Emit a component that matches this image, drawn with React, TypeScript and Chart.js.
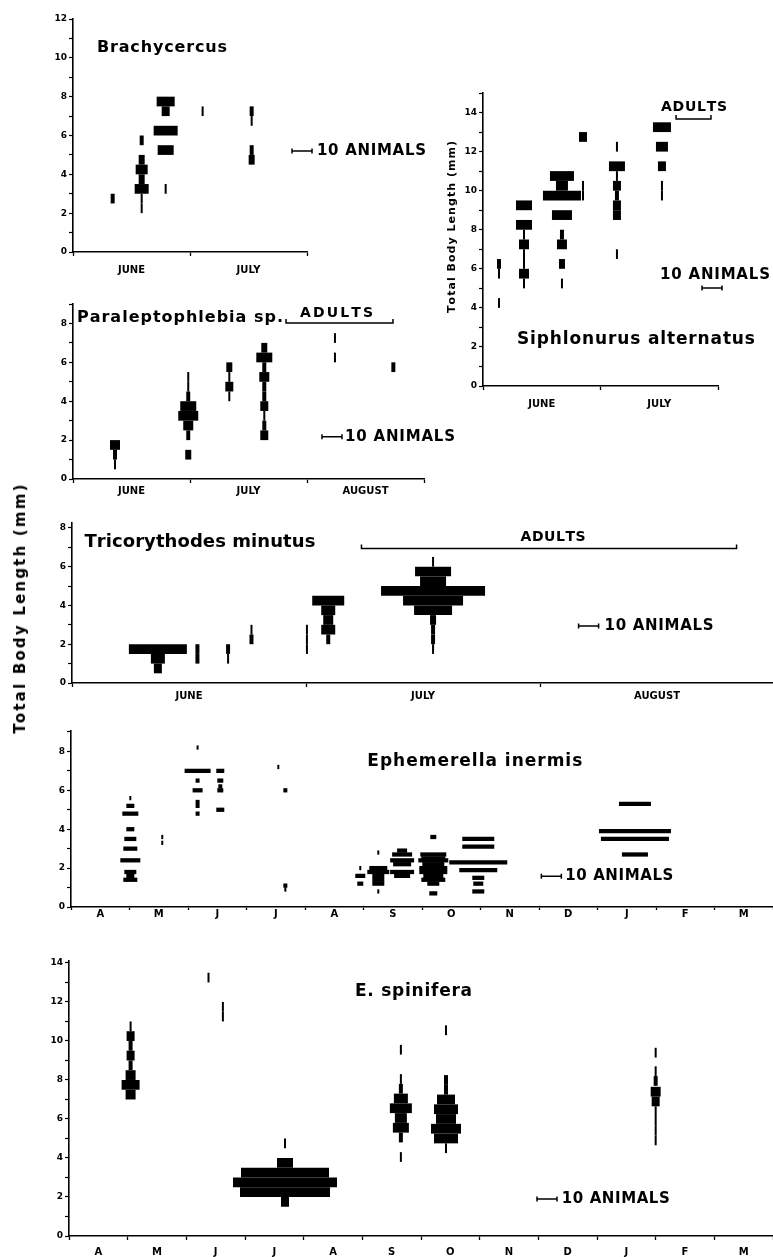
import React, { useEffect, useRef } from 'react';
import { Chart, registerables } from 'chart.js';

Chart.register(...registerables);

const FONT = "'DejaVu Sans', 'Liberation Sans', sans-serif";

// ---------- axis labels ----------
const MONTHS_JUNE_JULY = ['JUNE', 'JULY'];
const MONTHS_JUNE_AUG = ['JUNE', 'JULY', 'AUGUST'];
const MONTHS_APR_MAR = ['A', 'M', 'J', 'J', 'A', 'S', 'O', 'N', 'D', 'J', 'F', 'M'];

// width key: 10 animals
const ANIMALS_IN_KEY = 10;

// ---------- Brachycercus (x in months from 1 June) ----------
const BRACHY_DATES = [0.339, 0.587, 0.792, 1.108, 1.527];
const BRACHY_LENGTHS = [
  [2.75],
  [5.75, 4.75, 4.25, 3.75, 3.25, 2.75, 2.25],
  [7.75, 7.25, 6.25, 5.25, 3.25],
  [7.25],
  [7.25, 6.75, 5.25, 4.75],
];
const BRACHY_COUNTS = [
  [2],
  [2, 3, 6, 3, 7, 1, 1],
  [9, 4, 12, 8, 1],
  [1],
  [2, 1, 2, 3],
];

// ---------- Siphlonurus alternatus ----------
const SIPH_DATES = [0.136, 0.349, 0.672, 0.851, 1.14, 1.523];
const SIPH_LENGTHS = [
  [6.25, 5.75, 4.25],
  [9.25, 8.25, 7.75, 7.25, 6.75, 6.25, 5.75, 5.25],
  [10.75, 10.25, 9.75, 8.75, 7.75, 7.25, 6.25, 5.25],
  [12.75, 10.25, 9.75],
  [12.25, 11.25, 10.75, 10.25, 9.75, 9.25, 8.75, 6.75],
  [13.25, 12.25, 11.25, 10.25, 9.75],
];
const SIPH_COUNTS = [
  [2, 1, 1],
  [8, 8, 1, 5, 1, 1, 5, 1],
  [12, 6, 19, 10, 2, 5, 3, 1],
  [4, 1, 1],
  [1, 8, 1, 4, 2, 4, 4, 1],
  [9, 6, 4, 1, 1],
];

// ---------- Paraleptophlebia sp. ----------
const PARA_DATES = [0.359, 0.985, 1.336, 1.635, 2.239, 2.738];
const PARA_LENGTHS = [
  [1.75, 1.25, 0.75],
  [5.25, 4.75, 4.25, 3.75, 3.25, 2.75, 2.25, 1.25],
  [5.75, 5.25, 4.75, 4.25],
  [6.75, 6.25, 5.75, 5.25, 4.75, 4.25, 3.75, 3.25, 2.75, 2.25],
  [7.25, 6.25],
  [5.75],
];
const PARA_COUNTS = [
  [5, 2, 1],
  [1, 1, 2, 8, 10, 5, 2, 3],
  [3, 1, 4, 1],
  [3, 8, 2, 5, 2, 2, 4, 1, 2, 4],
  [1, 1],
  [2],
];

// ---------- Tricorythodes minutus ----------
const TRICO_DATES = [0.367, 0.536, 0.667, 0.767, 1.004, 1.095, 1.543];
const TRICO_LENGTHS = [
  [1.75, 1.25, 0.75],
  [1.75, 1.25],
  [1.75, 1.25],
  [2.75, 2.25],
  [2.75, 2.25, 1.75],
  [4.25, 3.75, 3.25, 2.75, 2.25],
  [6.25, 5.75, 5.25, 4.75, 4.25, 3.75, 3.25, 2.75, 2.25, 1.75],
];
const TRICO_COUNTS = [
  [29, 7, 4],
  [2, 2],
  [2, 1],
  [1, 2],
  [1, 1, 1],
  [16, 7, 5, 7, 2],
  [1, 18, 13, 52, 30, 19, 3, 2, 2, 1],
];

// ---------- Ephemerella inermis (x in months from 1 April) ----------
const INER_DATES = [1.014, 1.56, 2.164, 2.552, 3.544, 3.664, 4.945, 5.253, 5.66, 6.193, 6.962, 9.64];
const INER_LENGTHS = [
  [5.6, 5.2, 4.8, 4.0, 3.5, 3.0, 2.4, 1.8, 1.6, 1.4],
  [3.6, 3.3],
  [8.2, 7.0, 6.5, 6.0, 5.4, 5.2, 4.8],
  [7.0, 6.5, 6.2, 6.0, 5.0],
  [7.2],
  [6.0, 1.1, 0.9],
  [2.0, 1.6, 1.2],
  [2.8, 2.0, 1.8, 1.6, 1.4, 1.2, 0.8],
  [2.9, 2.7, 2.4, 2.2, 1.8, 1.6],
  [3.6, 2.7, 2.5, 2.4, 2.2, 2.0, 1.8, 1.6, 1.4, 1.2, 0.7],
  [3.5, 3.1, 2.3, 1.9, 1.5, 1.2, 0.8],
  [5.3, 3.9, 3.5, 2.7],
];
const INER_COUNTS = [
  [1, 4, 8, 4, 6, 7, 10, 6, 4, 7],
  [1, 1],
  [1, 13, 2, 5, 2, 2, 2],
  [4, 3, 2, 3, 4],
  [1],
  [2, 2, 1],
  [1, 5, 3],
  [1, 9, 11, 6, 6, 6, 1],
  [5, 10, 12, 9, 12, 8],
  [3, 13, 12, 15, 11, 14, 14, 10, 12, 6, 4],
  [16, 16, 29, 19, 6, 5, 6],
  [16, 36, 34, 13],
];

// ---------- E. spinifera ----------
const SPIN_DATES = [1.05, 2.378, 2.623, 3.682, 5.657, 6.426, 10.0];
const SPIN_LENGTHS = [
  [10.75, 10.25, 9.75, 9.25, 8.75, 8.25, 7.75, 7.25],
  [13.25],
  [11.75, 11.25],
  [4.75, 3.75, 3.25, 2.75, 2.25, 1.75],
  [9.55, 8.05, 7.55, 7.05, 6.55, 6.05, 5.55, 5.05, 4.05],
  [10.55, 8.0, 7.5, 7.0, 6.5, 6.0, 5.5, 5.0, 4.5],
  [9.4, 8.45, 7.95, 7.4, 6.9, 6.4, 5.9, 5.4, 4.9],
];
const SPIN_COUNTS = [
  [1, 4, 2, 4, 2, 5, 9, 5],
  [1],
  [1, 1],
  [1, 8, 44, 52, 45, 4],
  [1, 1, 2, 7, 11, 6, 8, 2, 1],
  [1, 2, 2, 9, 12, 10, 15, 12, 1],
  [1, 1, 2, 5, 4, 1, 1, 1, 1],
];

// ---------- layout / style ----------
const PX_PER_ANIMAL = 2;
const Y_AXIS_W = 45;
const PAD_TOP = 10;
const X_AXIS_H = 30;

type TextSpec = {
  text: string; x?: number; xPx?: number; y: number; size: number; width: number;
  align?: 'left' | 'center'; rotate?: boolean;
};
type PanelSpec = {
  plot: [number, number, number, number];
  padRight: number;
  months: string[];
  ymax: number;
  dates: number[]; lengths: number[][]; counts: number[][];
  classMM: number;
  monthFont: number; monthPad: number; xTickLen: number;
  texts: TextSpec[];
  bracket?: { x0: number; x1: number; y: number };
  key: { x: number; y: number };
};

const PANELS: PanelSpec[] = [
  {
    plot: [73, 19, 307, 252], padRight: 130, months: MONTHS_JUNE_JULY, ymax: 12,
    dates: BRACHY_DATES, lengths: BRACHY_LENGTHS, counts: BRACHY_COUNTS, classMM: 0.5,
    monthFont: 10, monthPad: 8, xTickLen: 4,
    texts: [
      { text: 'Brachycercus', x: 0.205, y: 10.5, size: 16, width: 130 },
      { text: '10 ANIMALS', x: 2.085, y: 5.2, size: 15, width: 109 },
    ],
    key: { x: 1.872, y: 5.2 },
  },
  {
    plot: [483, 93, 718, 386], padRight: 60, months: MONTHS_JUNE_JULY, ymax: 15,
    dates: SIPH_DATES, lengths: SIPH_LENGTHS, counts: SIPH_COUNTS, classMM: 0.5,
    monthFont: 10, monthPad: 8, xTickLen: 4,
    texts: [
      { text: 'Siphlonurus alternatus', x: 0.289, y: 2.36, size: 17, width: 238 },
      { text: 'ADULTS', x: 1.796, y: 14.29, size: 14, width: 66, align: 'center' },
      { text: '10 ANIMALS', x: 1.506, y: 5.68, size: 15, width: 110 },
      { text: 'Total Body Length (mm)', xPx: -31, y: 8.14, size: 11, width: 172, align: 'center', rotate: true },
    ],
    bracket: { x0: 1.643, x1: 1.94, y: 13.67 },
    key: { x: 1.864, y: 5.02 },
  },
  {
    plot: [73, 304, 424, 479], padRight: 40, months: MONTHS_JUNE_AUG, ymax: 9,
    dates: PARA_DATES, lengths: PARA_LENGTHS, counts: PARA_COUNTS, classMM: 0.5,
    monthFont: 10, monthPad: 2, xTickLen: 4,
    texts: [
      { text: 'Paraleptophlebia sp.', x: 0.034, y: 8.27, size: 16, width: 206 },
      { text: 'ADULTS', x: 2.252, y: 8.53, size: 14, width: 73, align: 'center' },
      { text: '10 ANIMALS', x: 2.325, y: 2.17, size: 15, width: 110 },
    ],
    bracket: { x0: 1.821, x1: 2.735, y: 8.02 },
    key: { x: 2.128, y: 2.17 },
  },
  {
    plot: [72, 523, 774, 683], padRight: 10, months: MONTHS_JUNE_AUG, ymax: 8.25,
    dates: TRICO_DATES, lengths: TRICO_LENGTHS, counts: TRICO_COUNTS, classMM: 0.5,
    monthFont: 10, monthPad: 3, xTickLen: 4,
    texts: [
      { text: 'Tricorythodes minutus', x: 0.053, y: 7.24, size: 18, width: 231 },
      { text: 'ADULTS', x: 2.056, y: 7.5, size: 14, width: 65, align: 'center' },
      { text: '10 ANIMALS', x: 2.276, y: 2.94, size: 15, width: 109 },
    ],
    bracket: { x0: 1.237, x1: 2.84, y: 6.94 },
    key: { x: 2.165, y: 2.94 },
  },
  {
    plot: [71, 731, 773, 907], padRight: 10, months: MONTHS_APR_MAR, ymax: 9.05,
    dates: INER_DATES, lengths: INER_LENGTHS, counts: INER_COUNTS, classMM: 0.22,
    monthFont: 10, monthPad: -2, xTickLen: 3,
    texts: [
      { text: 'Ephemerella inermis', x: 5.065, y: 7.46, size: 17, width: 215 },
      { text: '10 ANIMALS', x: 8.45, y: 1.58, size: 15, width: 108 },
    ],
    key: { x: 8.04, y: 1.58 },
  },
  {
    plot: [69, 961, 773, 1236], padRight: 10, months: MONTHS_APR_MAR, ymax: 14.1,
    dates: SPIN_DATES, lengths: SPIN_LENGTHS, counts: SPIN_COUNTS, classMM: 0.5,
    monthFont: 10, monthPad: 6, xTickLen: 4,
    texts: [
      { text: 'E. spinifera', x: 4.875, y: 12.51, size: 17, width: 117 },
      { text: '10 ANIMALS', x: 8.4, y: 1.9, size: 15, width: 108 },
    ],
    key: { x: 7.977, y: 1.9 },
  },
];

function drawSpaced(ctx: CanvasRenderingContext2D, t: TextSpec, x: number, y: number) {
  ctx.save();
  ctx.font = `bold ${t.size}px ${FONT}`;
  ctx.textBaseline = 'middle';
  ctx.textAlign = 'left';
  ctx.fillStyle = '#000';
  const chars = Array.from(t.text);
  const widths = chars.map((c) => ctx.measureText(c).width);
  const natural = widths.reduce((a, b) => a + b, 0);
  const gap = chars.length > 1 ? (t.width - natural) / (chars.length - 1) : 0;
  ctx.translate(x, y);
  if (t.rotate) ctx.rotate(-Math.PI / 2);
  let cx = t.align === 'center' ? -t.width / 2 : 0;
  chars.forEach((c, i) => {
    ctx.fillText(c, cx, 0);
    cx += widths[i] + gap;
  });
  ctx.restore();
}

function Panel({ spec }: { spec: PanelSpec }) {
  const ref = useRef<HTMLCanvasElement | null>(null);
  const [L, T, R, B] = spec.plot;
  const width = Y_AXIS_W + (R - L) + spec.padRight;
  const height = PAD_TOP + (B - T) + X_AXIS_H;

  useEffect(() => {
    if (!ref.current) return;
    const n = spec.months.length;
    const pxPerMonth = (R - L) / n;
    const pxPerMM = (B - T) / spec.ymax;
    const halfPerAnimal = PX_PER_ANIMAL / 2 / pxPerMonth;
    const data: { x: [number, number]; y: number }[] = [];
    spec.dates.forEach((d, i) => {
      spec.lengths[i].forEach((len, j) => {
        const h = spec.counts[i][j] * halfPerAnimal;
        data.push({ x: [d - h, d + h], y: len });
      });
    });

    const annot = {
      id: 'annot',
      afterDraw(chart: any) {
        const ctx: CanvasRenderingContext2D = chart.ctx;
        const xs = chart.scales.x;
        const ys = chart.scales.y;
        ctx.save();
        ctx.strokeStyle = '#000';
        ctx.fillStyle = '#000';
        for (const t of spec.texts) {
          const px = t.xPx !== undefined ? chart.chartArea.left + t.xPx : xs.getPixelForValue(t.x);
          drawSpaced(ctx, t, px, ys.getPixelForValue(t.y));
        }
        if (spec.bracket) {
          const a = xs.getPixelForValue(spec.bracket.x0);
          const b = xs.getPixelForValue(spec.bracket.x1);
          const py = ys.getPixelForValue(spec.bracket.y);
          ctx.lineWidth = 1.5;
          ctx.beginPath();
          ctx.moveTo(a, py - 4);
          ctx.lineTo(a, py);
          ctx.lineTo(b, py);
          ctx.lineTo(b, py - 4);
          ctx.stroke();
        }
        const kx = xs.getPixelForValue(spec.key.x);
        const ky = ys.getPixelForValue(spec.key.y);
        const kx2 = xs.getPixelForValue(spec.key.x + ANIMALS_IN_KEY * 2 * halfPerAnimal);
        ctx.lineWidth = 1.5;
        ctx.beginPath();
        ctx.moveTo(kx, ky);
        ctx.lineTo(kx2, ky);
        ctx.moveTo(kx, ky - 2.5);
        ctx.lineTo(kx, ky + 2.5);
        ctx.moveTo(kx2, ky - 2.5);
        ctx.lineTo(kx2, ky + 2.5);
        ctx.stroke();
        ctx.restore();
      },
    };

    const chart = new Chart(ref.current, {
      type: 'bar',
      data: {
        datasets: [
          {
            data: data as any,
            backgroundColor: '#000',
            borderWidth: 0,
            barThickness: spec.classMM * pxPerMM,
            grouped: false,
            inflateAmount: 0,
          } as any,
        ],
      },
      options: {
        indexAxis: 'y',
        responsive: false,
        animation: false,
        devicePixelRatio: 1,
        layout: { padding: { top: PAD_TOP, right: spec.padRight, left: 0, bottom: 0 } },
        plugins: { legend: { display: false }, tooltip: { enabled: false }, title: { display: false } },
        scales: {
          x: {
            type: 'linear',
            min: 0,
            max: n,
            offset: false,
            afterBuildTicks: (s: any) => {
              const t: { value: number }[] = [];
              for (let m = 0; m <= n; m++) {
                t.push({ value: m });
                if (m < n) t.push({ value: m + 0.5 });
              }
              s.ticks = t;
            },
            afterFit: (s: any) => {
              s.height = X_AXIS_H;
            },
            grid: {
              offset: false,
              drawOnChartArea: false,
              drawTicks: true,
              tickLength: spec.xTickLen,
              tickWidth: 1.3,
              tickColor: (c: any) => (c.tick && Number.isInteger(c.tick.value) ? '#000' : 'rgba(0,0,0,0)'),
            },
            border: { display: true, color: '#000', width: 1.6 },
            ticks: {
              autoSkip: false,
              maxRotation: 0,
              minRotation: 0,
              padding: spec.monthPad,
              color: '#000',
              font: { family: FONT, size: spec.monthFont, weight: 'bold' },
              callback: (v: any) => {
                const k = Number(v) - 0.5;
                return Number.isInteger(k) ? spec.months[k] : '';
              },
            },
          },
          y: {
            type: 'linear',
            min: 0,
            max: spec.ymax,
            offset: false,
            afterBuildTicks: (s: any) => {
              const t: { value: number }[] = [];
              for (let v = 0; v <= Math.floor(spec.ymax); v++) t.push({ value: v });
              s.ticks = t;
            },
            afterFit: (s: any) => {
              s.width = Y_AXIS_W;
            },
            grid: {
              offset: false,
              drawOnChartArea: false,
              drawTicks: true,
              tickLength: 4,
              tickWidth: 1.2,
              tickColor: '#000',
            },
            border: { display: true, color: '#000', width: 1.6 },
            ticks: {
              autoSkip: false,
              padding: 2,
              color: '#000',
              font: { family: FONT, size: 9, weight: 'bold' },
              callback: (v: any) => (Number(v) % 2 === 0 ? String(v) : ''),
            },
          },
        },
      } as any,
      plugins: [annot],
    });
    return () => chart.destroy();
  }, []);

  return (
    <canvas
      ref={ref}
      width={width}
      height={height}
      style={{ position: 'absolute', left: L - Y_AXIS_W, top: T - PAD_TOP, width, height }}
    />
  );
}

export default function App() {
  return (
    <div
      style={{
        position: 'absolute',
        left: 0,
        top: 0,
        width: 773,
        height: 1257,
        overflow: 'hidden',
        background: '#fff',
      }}
    >
      {PANELS.map((p, i) => (
        <Panel key={i} spec={p} />
      ))}
      <div
        style={{
          position: 'absolute',
          left: 20,
          top: 608,
          transform: 'translate(-50%, -50%) rotate(-90deg)',
          font: `bold 15px ${FONT}`,
          letterSpacing: '2.2px',
          whiteSpace: 'nowrap',
          color: '#000',
        }}
      >
        Total Body Length (mm)
      </div>
    </div>
  );
}
